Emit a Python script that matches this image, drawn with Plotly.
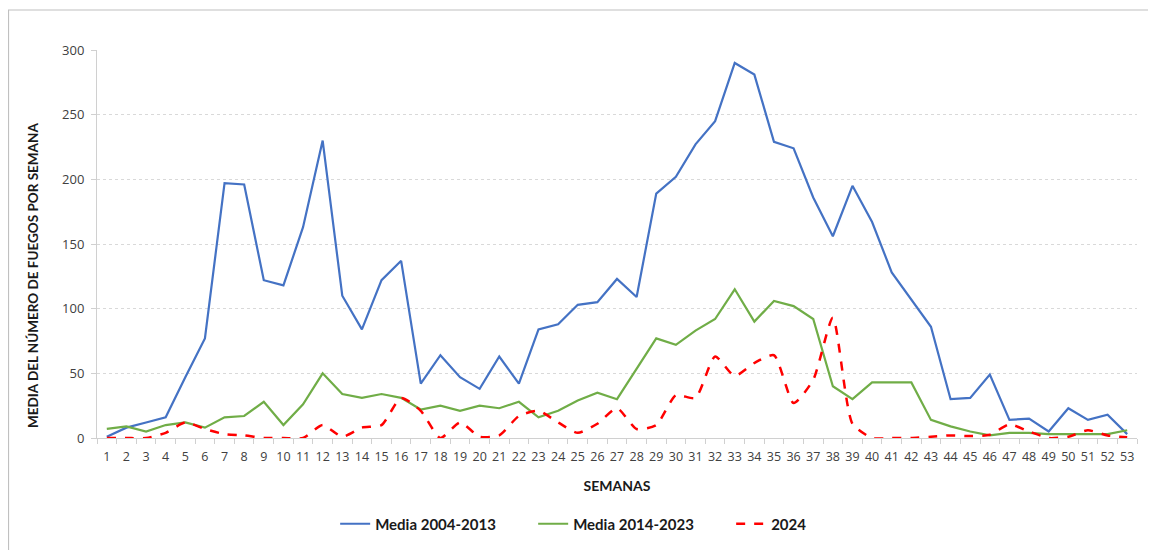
import plotly.graph_objects as go

semanas = [str(i) for i in range(1, 54)]

media_2004_2013 = [1, 8, 12, 16, 47, 77, 197, 196, 122, 118, 163, 230, 110, 84, 122, 137,
                   42, 64, 47, 38, 63, 42, 84, 88, 103, 105, 123, 109, 189, 202, 227, 245,
                   290, 281, 229, 224, 186, 156, 195, 167, 128, 107, 86, 30, 31, 49, 14,
                   15, 5, 23, 14, 18, 3]

media_2014_2023 = [7, 9, 5, 10, 12, 8, 16, 17, 28, 10, 26, 50, 34, 31, 34, 31,
                   22, 25, 21, 25, 23, 28, 16, 21, 29, 35, 30, 54, 77, 72, 83, 92,
                   115, 90, 106, 102, 92, 40, 30, 43, 43, 43, 14, 9, 5, 2, 4,
                   4, 3, 3, 3, 3, 6]

fuegos_2024 = [0, 0, 0, 4, 12, 7, 3, 2, 0, 0, 0, 10, 1, 8, 10, 31,
               21, 0, 12, 1, 2, 17, 21, 12, 4, 11, 23, 7, 10, 33, 31, 63,
               48, 58, 64, 27, 45, 93, 11, 0, 0, 0, 1, 2, 1.5, 2.5, 10.5,
               5, 0, 1, 6, 2, 0.5]

fig = go.Figure()
fig.add_trace(go.Scatter(x=semanas, y=media_2004_2013, name="Media 2004-2013",
                         mode="lines", line=dict(color="#4472C4", width=2.2)))
fig.add_trace(go.Scatter(x=semanas, y=media_2014_2023, name="Media 2014-2023",
                         mode="lines", line=dict(color="#70AD47", width=2.2)))
fig.add_trace(go.Scatter(x=semanas, y=fuegos_2024, name="2024",
                         mode="lines", line=dict(color="#FF0000", width=2.5, dash="dash",
                                                 shape="spline", smoothing=0.6)))

# outer border of the chart frame
fig.add_shape(type="rect", xref="paper", yref="paper",
              x0=-0.0851, x1=1.1, y0=-0.5, y1=1.1031,
              line=dict(color="#c0c0c0", width=1.2), layer="below")

# y title sits a bit below the plot centre in the original
fig.add_annotation(text="<b>MEDIA DEL NÚMERO DE FUEGOS POR SEMANA</b>",
                   xref="paper", yref="paper", x=-0.0615, y=0.4175,
                   xanchor="center", yanchor="middle",
                   textangle=-90, showarrow=False,
                   font=dict(family="Lato", size=13.5, color="#1a1a1a"))

# page body adds 8px around the figure
fig.update_layout(
    width=1148, height=550,
    margin=dict(l=89, r=19, t=42, b=120),
    paper_bgcolor="white", plot_bgcolor="white",
    font=dict(family="Open Sans", color="#404040", size=13),
    legend=dict(orientation="h", x=0.229, xanchor="left", y=-0.2216, yanchor="middle",
                font=dict(family="Lato", size=15, color="#1a1a1a", weight="bold"),
                entrywidth=153, tracegroupgap=0),
    xaxis=dict(
        type="category", range=[-0.5, 52.5], tickson="boundaries",
        ticks="outside", ticklen=5,
        tickcolor="#d0d0d0", showline=True, linecolor="#d0d0d0", linewidth=1,
        showgrid=False, tickangle=0, automargin=False, ticklabelstandoff=7,
        tickfont=dict(size=12.5, color="#404040"),
        title=dict(text="SEMANAS", standoff=17,
                   font=dict(family="Lato", size=14, color="#1a1a1a", weight="bold")),
    ),
    yaxis=dict(
        range=[0, 300], dtick=50, ticks="outside", ticklen=5, tickcolor="#d0d0d0",
        showline=True, linecolor="#d0d0d0", linewidth=1, automargin=False,
        showgrid=True, gridcolor="#d9d9d9", griddash="dot", gridwidth=1,
        zeroline=False, tickfont=dict(size=13, color="#404040"), ticklabelstandoff=4,
    ),
)

fig.write_html("out.html")
